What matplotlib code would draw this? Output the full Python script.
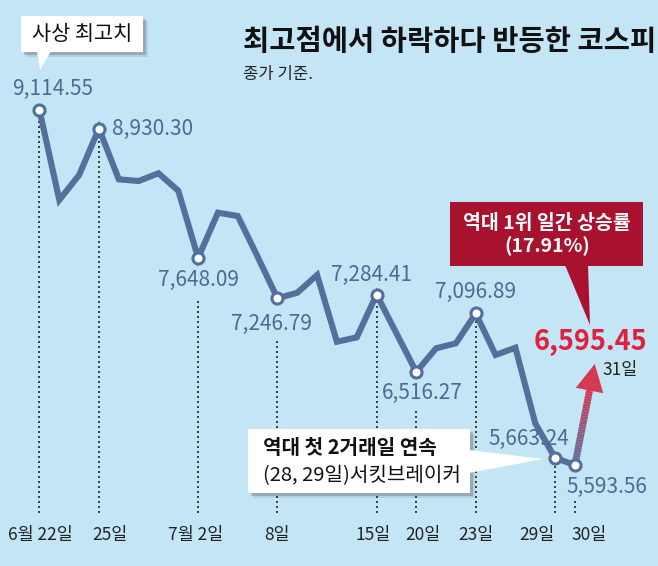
import numpy as np
import matplotlib.pyplot as plt
from matplotlib.patches import Polygon
from matplotlib.collections import LineCollection
from matplotlib.colors import to_rgb

plt.rcParams['font.family'] = ['Noto Sans CJK KR', 'DejaVu Sans']

# KOSPI close by trading day (index 0 = 6/22, index 27 = 7/30)
kospi = [9114.55, 8222, 8470, 8930.30, 8427, 8410, 8487, 8314, 7648.09,
         8096, 8063, 7660, 7246.79, 7302, 7478, 6816, 6860, 7284.41,
         6900, 6516.27, 6751, 6801, 7096.89, 6685, 6757, 6007,
         5663.24, 5593.56]
last_close = 6595.45
last_day = '31일'

mark_idx = [0, 3, 8, 12, 17, 19, 22, 26, 27]
mark_ticks = ['6월 22일', '25일', '7월 2일', '8일', '15일', '20일', '23일', '29일', '30일']

title = '최고점에서 하락하다 반등한 코스피'
subtitle = '종가 기준.'
note_top = '사상 최고치'
note_red = '역대 1위 일간 상승률\n(17.91%)'
note_cb = ['역대 첫 2거래일 연속', '(28, 29일)서킷브레이커']

# layout (pixels, y down)
label_off = [(13, -21, 'center'), (13, 0, 'left'), (0, 22, 'center'), (-6, 26, 'center'),
             (-5, -20, 'center'), (6, 21, 'center'), (0, -21, 'center'),
             (-26, -19, 'center'), (32, 22, 'center')]
dot_start = [0, 0, 43, 41, 0, 36, 0, 8, 35]
tick_nudge = [1, 11, -2, 0, -3, 7, 0, -18, 14]

W, H = 658, 566
bg = '#c4e5f6'
blue = '#52709b'
txtblue = '#4b6b93'
dark_red = '#a8122e'
red = '#e0203c'

fig = plt.figure(figsize=(W / 100, H / 100), dpi=100, facecolor=bg)
ax = fig.add_axes([0, 0, 1, 1])
ax.set_facecolor(bg)
ax.set_xlim(-1.99, 31.19)
ax.set_ylim(4591.9, 10205.5)
ax.axis('off')
dpp = (10205.5 - 4591.9) / H  # data units per pixel


def fp(x, y):
    return (x / W, 1 - y / H)


def box(x0, y0, x1, y1, tail, color, shadow=True):
    pts = [fp(x, y) for x, y in [(x0, y0), (x1, y0), (x1, y1), (x0, y1)]]
    if shadow:
        for s, a in [(5, 0.12), (3, 0.25)]:
            sh = [fp(x + s, y + s) for x, y in [(x0, y0), (x1, y0), (x1, y1), (x0, y1)]]
            fig.add_artist(Polygon(sh, closed=True, fc='#404040', ec='none', alpha=a,
                                   transform=fig.transFigure, zorder=6))
    fig.add_artist(Polygon(pts, closed=True, fc=color, ec='none',
                           transform=fig.transFigure, zorder=7))
    fig.add_artist(Polygon([fp(x, y) for x, y in tail], closed=True, fc=color, ec='none',
                           transform=fig.transFigure, zorder=7))


x = np.arange(len(kospi))
y_bot = 5117.6

# dotted guides
for k, i in enumerate(mark_idx):
    ax.vlines(i, y_bot, kospi[i] - dot_start[k] * dpp, colors='#222222',
              linestyles=(0, (1.2, 1.8)), lw=1.2, zorder=2)

# gradient arrow for the last day
x_tip, y_tip = len(kospi), last_close
p0 = ax.transData.transform((x[-1], kospi[-1]))
p1 = ax.transData.transform((x_tip, y_tip))
d = (p1 - p0) / np.hypot(*(p1 - p0))
nrm = np.array([-d[1], d[0]])
head_len, head_w = 27, 14
base = p1 - d * head_len
n = 30
seg_pts = np.linspace(p0, base + d * 2, n + 1)
segs = [[seg_pts[j], seg_pts[j + 1]] for j in range(n)]
c0, c1 = np.array(to_rgb('#5a74a3')), np.array(to_rgb('#d3384f'))
cols = [c0 + (c1 - c0) * t for t in np.linspace(0, 1, n)]
ax.add_collection(LineCollection(segs, colors=cols, linewidths=5, transform=None,
                                 zorder=3, capstyle='butt'))
head = [p1, base + nrm * head_w, base - nrm * head_w]
ax.add_patch(Polygon(head, closed=True, fc='#d53a52', ec='none', transform=None, zorder=3))

# main line
ax.plot(x, kospi, color=blue, lw=4.4, solid_joinstyle='miter', zorder=4)
ax.plot(x[mark_idx], np.array(kospi)[mark_idx], 'o', ms=8, mfc='white', mec=blue,
        mew=2.2, zorder=5)

# value labels
for k, i in enumerate(mark_idx):
    dx, dy, ha = label_off[k]
    ax.annotate(f'{kospi[i]:,.2f}', (i, kospi[i]), xytext=(dx * 0.72, -dy * 0.72),
                textcoords='offset points', ha=ha, va='center', fontsize=15,
                fontweight='light', color=txtblue, zorder=6)

# x tick labels
for k, i in enumerate(mark_idx):
    ax.annotate(mark_ticks[k], (i, 1 - 535 / H), xycoords=('data', 'figure fraction'),
                xytext=(tick_nudge[k] * 0.72, 0), textcoords='offset points',
                ha='center', va='center', fontsize=12.5, fontweight='light',
                color='#222222')

# last close
ax.annotate(f'{last_close:,.2f}', (x_tip, y_tip), xytext=(-4 * 0.72, 22 * 0.72),
            textcoords='offset points', ha='center', va='center', fontsize=19.5,
            fontweight='bold', color=red, zorder=6)
ax.annotate(last_day, (x_tip, y_tip), xytext=(25 * 0.72, -6 * 0.72),
            textcoords='offset points', ha='center', va='center', fontsize=12.5,
            fontweight='light', color='#222222', zorder=6)

# title
fig.text(243 / W, 1 - 42 / H, title, fontsize=20.5, fontweight='bold', color='#111111',
         ha='left', va='center')
fig.text(243 / W, 1 - 74 / H, subtitle, fontsize=12, color='#222222', ha='left', va='center')

# callouts
box(21, 16, 143, 52, [(37, 51), (51, 51), (40, 70)], 'white')
fig.text(82 / W, 1 - 34 / H, note_top, fontsize=15, color='#111111', ha='center',
         va='center', zorder=8)

box(450, 202, 643, 266, [(565, 265), (588, 265), (590, 325)], dark_red, shadow=False)
fig.text(547 / W, 1 - 235 / H, note_red, fontsize=14, fontweight='bold', color='white',
         ha='center', va='center', linespacing=1.25, zorder=8)

box(248, 429, 470, 493, [(469, 450), (469, 473), (543, 459)], 'white')
fig.text(263 / W, 1 - 447 / H, note_cb[0], fontsize=14.5, fontweight='bold',
         color='#111111', ha='left', va='center', zorder=8)
fig.text(263 / W, 1 - 476 / H, note_cb[1], fontsize=14.5, color='#111111', ha='left',
         va='center', zorder=8)

fig.savefig('out.png', dpi=100, facecolor=bg)
